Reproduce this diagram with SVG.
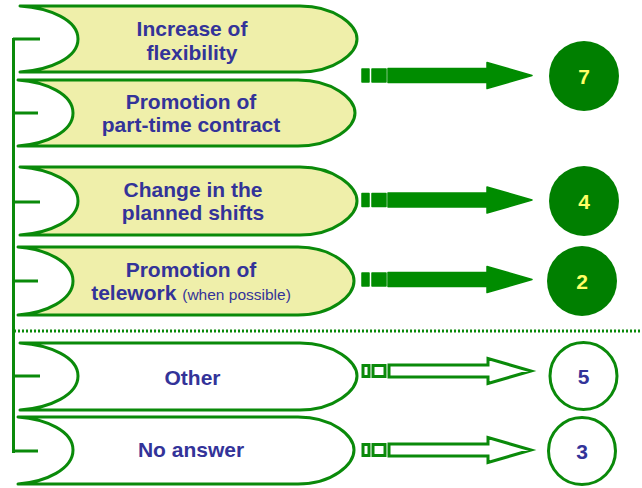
<svg xmlns="http://www.w3.org/2000/svg" width="642" height="488" viewBox="0 0 642 488">
<style>
.sh{stroke:#0A8A0A;stroke-width:3;stroke-linejoin:round}
.y{fill:#EFEFAA}
.w{fill:#FFFFFF}
.t{font-family:"Liberation Sans",Arial,sans-serif;font-weight:bold;font-size:21px;fill:#333399;text-anchor:middle}
.s{font-weight:normal;font-size:15.5px}
.br{stroke:#0A8A0A;stroke-width:3;fill:none}
.fa{fill:#008C00;stroke:#008C00;stroke-width:1.5;stroke-linejoin:round}
.oa{fill:#FFFFFF;stroke:#0A8A0A;stroke-width:3;stroke-linejoin:miter}
.fc{fill:#007F00}
.oc{fill:#FFFFFF;stroke:#0A8A0A;stroke-width:3}
.n{font-family:"Liberation Sans",Arial,sans-serif;font-weight:bold;font-size:21px;text-anchor:middle}
</style>
<defs>
<path id="filledArrow" d="M362,-6.5h7v13h-7z M372,-6.5h14v13h-14z M388,-7h99v-6l45,13l-45,13v-6h-99z"/>
<path id="outArrow" d="M363,-5.5h6v11h-6z M373,-5.5h12v11h-12z M389,-6h99v-6.5l43,12.5l-43,12.5v-6.5h-99z"/>
</defs>
<g id="bracket">
<path class="br" d="M13.5,38V453 M13,39H40 M13,113H38 M13,202H40 M13,281H38 M13,376H40 M13,451H38"/>
</g>
<line x1="14" y1="331" x2="642" y2="331" stroke="#0A8A0A" stroke-width="3" stroke-dasharray="2 2"/>
<g id="node1">
<path class="sh y" d="M20,6H300C335,6 357,25 357,39C357,53 335,72 300,72H20C50,70 78,58 78,39C78,20 50,8 20,6Z"/>
<text class="t" x="192" y="36">Increase of</text>
<text class="t" x="192" y="60">flexibility</text>
</g>
<g id="node2">
<path class="sh y" d="M18,80H298C333,80 355,99 355,113C355,127 333,146 298,146H18C46,144 73,132 73,113C73,94 46,82 18,80Z"/>
<text class="t" x="191" y="109">Promotion of</text>
<text class="t" x="191" y="132">part-time contract</text>
</g>
<g id="node3">
<path class="sh y" d="M20,167H300C335,167 357,187 357,201C357,215 335,235 300,235H20C50,233 78,220 78,201C78,182 50,169 20,167Z"/>
<text class="t" x="193" y="197">Change in the</text>
<text class="t" x="193" y="220">planned shifts</text>
</g>
<g id="node4">
<path class="sh y" d="M18,247H298C333,247 354,267 354,281C354,295 333,315 298,315H18C46,313 73,300 73,281C73,262 46,249 18,247Z"/>
<text class="t" x="191" y="277">Promotion of</text>
<text class="t" x="191" y="300">telework <tspan class="s">(when possible)</tspan></text>
</g>
<g id="node5">
<path class="sh w" d="M20,343H300C335,343 357,362 357,376C357,390 335,410 300,410H20C50,408 78,395 78,376C78,357 50,345 20,343Z"/>
<text class="t" x="192.5" y="385">Other</text>
</g>
<g id="node6">
<path class="sh w" d="M18,417H298C333,417 354,436 354,450C354,464 333,484 298,484H18C46,482 73,469 73,450C73,431 46,419 18,417Z"/>
<text class="t" x="191" y="457">No answer</text>
</g>
<g id="connectors">
<use href="#filledArrow" class="fa" transform="translate(0,75.5)"/>
<use href="#filledArrow" class="fa" transform="translate(0,200)"/>
<use href="#filledArrow" class="fa" transform="translate(0,279.5)"/>
<use href="#outArrow" class="oa" transform="translate(0,371)"/>
<use href="#outArrow" class="oa" transform="translate(0,450)"/>
</g>
<g id="count7">
<circle class="fc" cx="584" cy="76" r="35"/>
<text class="n" x="584" y="84" fill="#FFFF66">7</text>
</g>
<g id="count4">
<circle class="fc" cx="584" cy="201" r="35"/>
<text class="n" x="584" y="209" fill="#FFFF66">4</text>
</g>
<g id="count2">
<circle class="fc" cx="582" cy="281" r="35"/>
<text class="n" x="582" y="289" fill="#FFFF66">2</text>
</g>
<g id="count5">
<circle class="oc" cx="583.5" cy="376" r="33.5"/>
<text class="n" x="583.5" y="384" fill="#333399">5</text>
</g>
<g id="count3">
<circle class="oc" cx="582" cy="451" r="33.5"/>
<text class="n" x="582" y="459" fill="#333399">3</text>
</g>
</svg>
